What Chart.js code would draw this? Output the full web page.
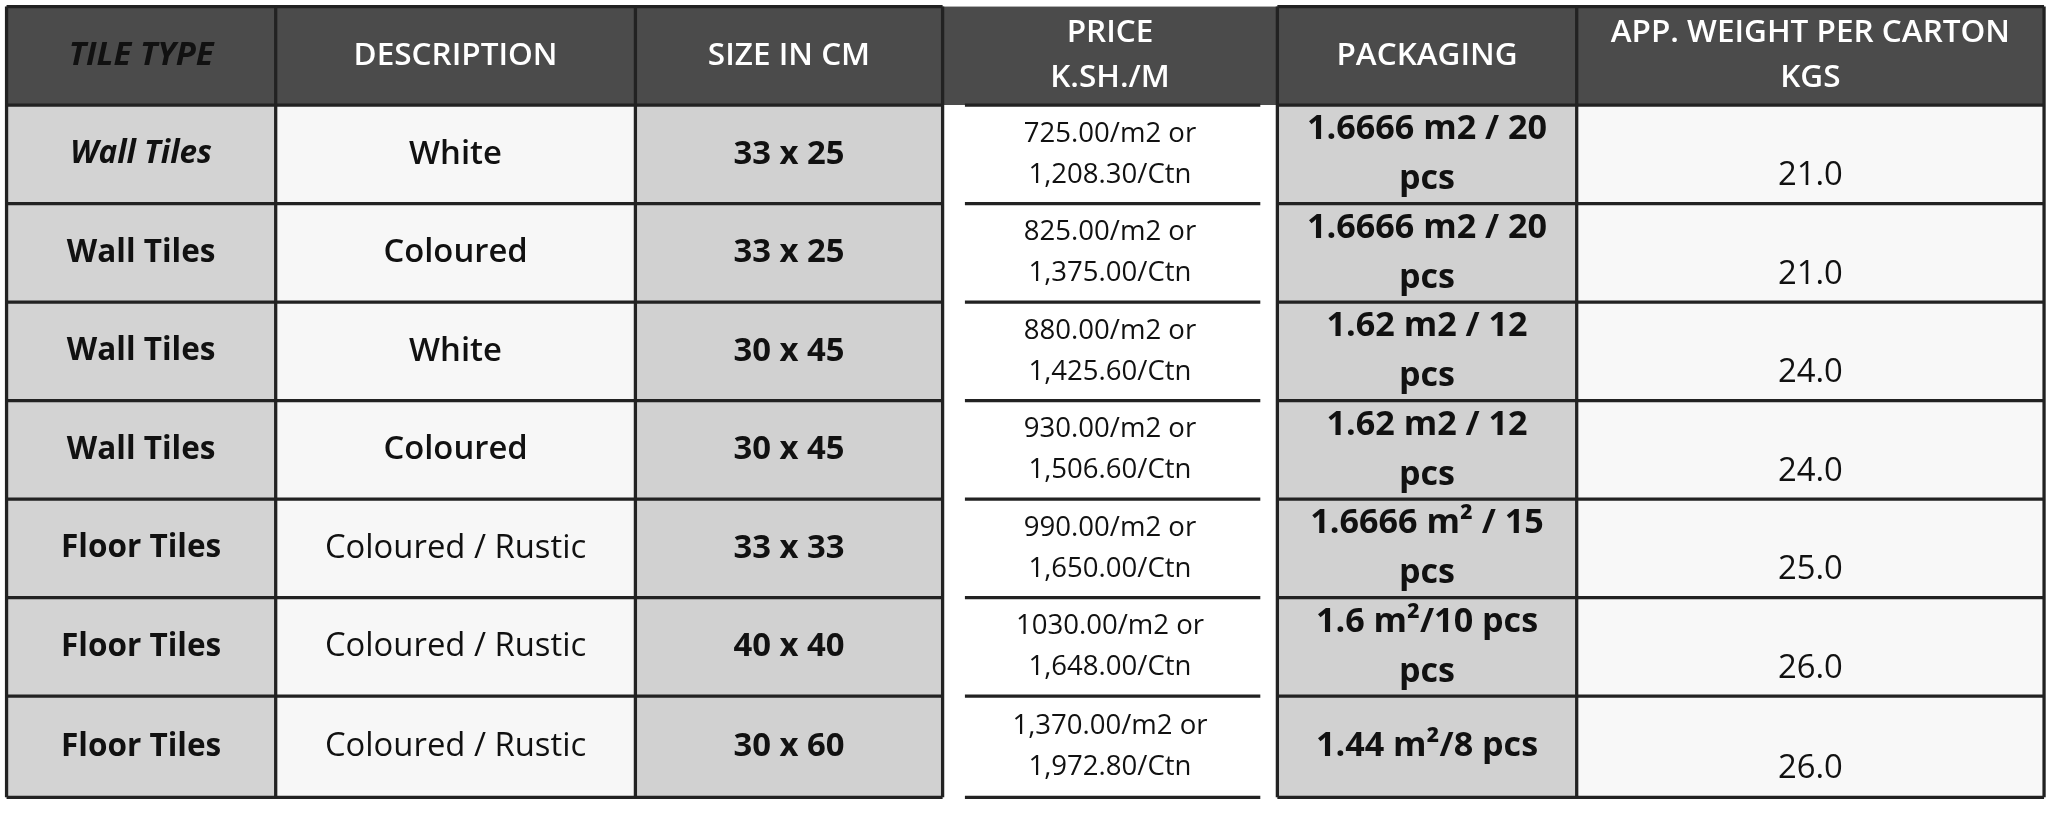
<!DOCTYPE html>
<html>
<head>
<meta charset="utf-8">
<script src="https://cdn.jsdelivr.net/npm/chart.js@4.4.0/dist/chart.umd.min.js"></script>
<style>
  html, body { margin: 0; padding: 0; background: #fff; }
  #wrap { width: 2048px; height: 817px; }
</style>
</head>
<body>
<div id="wrap"><canvas id="myChart"></canvas></div>
<script>
// table content
const headers = ['TILE TYPE', 'DESCRIPTION', 'SIZE IN CM', 'PRICE\nK.SH./M', 'PACKAGING', 'APP. WEIGHT PER CARTON\nKGS'];
const tileTypes = ['Wall Tiles', 'Wall Tiles', 'Wall Tiles', 'Wall Tiles', 'Floor Tiles', 'Floor Tiles', 'Floor Tiles'];
const descriptions = ['White', 'Coloured', 'White', 'Coloured', 'Coloured / Rustic', 'Coloured / Rustic', 'Coloured / Rustic'];
const sizes = ['33 x 25', '33 x 25', '30 x 45', '30 x 45', '33 x 33', '40 x 40', '30 x 60'];
const prices = [
    '725.00/m2 or\n1,208.30/Ctn', '825.00/m2 or\n1,375.00/Ctn', '880.00/m2 or\n1,425.60/Ctn',
    '930.00/m2 or\n1,506.60/Ctn', '990.00/m2 or\n1,650.00/Ctn', '1030.00/m2 or\n1,648.00/Ctn',
    '1,370.00/m2 or\n1,972.80/Ctn'
];
const packaging = [
    '1.6666 m2 / 20\npcs', '1.6666 m2 / 20\npcs', '1.62 m2 / 12\npcs', '1.62 m2 / 12\npcs',
    '1.6666 m² / 15\npcs', '1.6 m²/10 pcs\npcs', '1.44 m²/8 pcs'
];
const weights = ['21.0', '21.0', '24.0', '24.0', '25.0', '26.0', '26.0'];

// layout in reference units (1560 x 622)
const colEdges = [5, 210, 484, 718, 973, 1201, 1557];
const rowEdges = [5, 80, 155, 230, 305, 380, 455, 530, 607];
const colFill = ['#d3d3d3', '#f7f7f7', '#d1d1d1', '#ffffff', '#d1d1d1', '#f8f8f8'];

const tablePlugin = {
    id: 'table',
    afterDraw(chart) {
        const c = chart.ctx, x = chart.scales.x, y = chart.scales.y;
        const u = (x.getPixelForValue(100) - x.getPixelForValue(0)) / 100;
        const X = v => x.getPixelForValue(v), Y = v => y.getPixelForValue(v);
        const rows = tileTypes.map((t, i) => [t, descriptions[i], sizes[i], prices[i], packaging[i], weights[i]]);

        function text(str, cx, cy, font, color, lh) {
            c.fillStyle = color;
            c.font = font;
            c.textAlign = 'center';
            c.textBaseline = 'middle';
            const lines = str.split('\n');
            lines.forEach((l, k) => c.fillText(l, cx, cy + (k - (lines.length - 1) / 2) * lh));
        }

        // header
        c.fillStyle = '#4b4b4b';
        c.fillRect(X(colEdges[0]), Y(rowEdges[0]), X(colEdges[6]) - X(colEdges[0]), Y(rowEdges[1]) - Y(rowEdges[0]));
        headers.forEach((h, j) => {
            const cx = (X(colEdges[j]) + X(colEdges[j + 1])) / 2;
            const cy = (Y(rowEdges[0]) + Y(rowEdges[1])) / 2;
            if (j === 0) text(h, cx, cy, `italic bold ${25 * u}px "Open Sans"`, '#111', 0);
            else text(h, cx, cy, `600 ${24 * u}px "Open Sans"`, '#fff', 34 * u);
        });

        // body
        rows.forEach((r, i) => {
            const y0 = Y(rowEdges[i + 1]), y1 = Y(rowEdges[i + 2]);
            r.forEach((val, j) => {
                const x0 = X(colEdges[j]), x1 = X(colEdges[j + 1]);
                c.fillStyle = colFill[j];
                c.fillRect(x0, y0, x1 - x0, y1 - y0);
                const cx = (x0 + x1) / 2, cy = (y0 + y1) / 2;
                if (j === 0) text(val, cx, cy, `${i === 0 ? 'italic ' : ''}bold ${24 * u}px "Open Sans"`, '#111', 0);
                else if (j === 1) text(val, cx, cy, `${i < 4 ? '600' : '400'} ${25 * u}px "Open Sans"`, '#111', 0);
                else if (j === 2) text(val, cx, cy, `bold ${25 * u}px "Open Sans"`, '#111', 0);
                else if (j === 3) text(val, cx, cy, `${21 * u}px "Open Sans"`, '#111', 31 * u);
                else if (j === 4) text(val, cx, cy, `bold ${26 * u}px "Open Sans"`, '#111', 38 * u);
                else text(val, cx, y0 + (y1 - y0) * 0.72, `${25 * u}px "Open Sans"`, '#111', 0);
            });
        });

        // grid lines
        c.strokeStyle = '#222';
        c.lineWidth = 2.5 * u;
        rowEdges.forEach((ry, i) => {
            c.beginPath();
            c.moveTo(X(colEdges[0]), Y(ry)); c.lineTo(X(colEdges[3]), Y(ry));
            c.moveTo(X(colEdges[4]), Y(ry)); c.lineTo(X(colEdges[6]), Y(ry));
            if (i > 0) { c.moveTo(X(735), Y(ry)); c.lineTo(X(960), Y(ry)); }
            c.stroke();
        });
        colEdges.forEach((cxv, j) => {
            if (j === 4) return;
            c.beginPath();
            c.moveTo(X(cxv), Y(rowEdges[0])); c.lineTo(X(cxv), Y(rowEdges[rowEdges.length - 1]));
            c.stroke();
        });
        c.beginPath();
        c.moveTo(X(colEdges[4]), Y(rowEdges[0])); c.lineTo(X(colEdges[4]), Y(rowEdges[rowEdges.length - 1]));
        c.stroke();
    }
};

document.addEventListener('DOMContentLoaded', function () {
    const ctx = document.getElementById('myChart').getContext('2d');
    new Chart(ctx, {
        type: 'scatter',
        data: { datasets: [{ data: [] }] },
        options: {
            responsive: true,
            maintainAspectRatio: false,
            animation: false,
            layout: { padding: 0 },
            scales: {
                x: { type: 'linear', min: 0, max: 1560, display: false },
                y: { type: 'linear', min: 0, max: 622, reverse: true, display: false }
            },
            plugins: { legend: { display: false }, tooltip: { enabled: false } }
        },
        plugins: [tablePlugin]
    });
});
</script>
</body>
</html>
